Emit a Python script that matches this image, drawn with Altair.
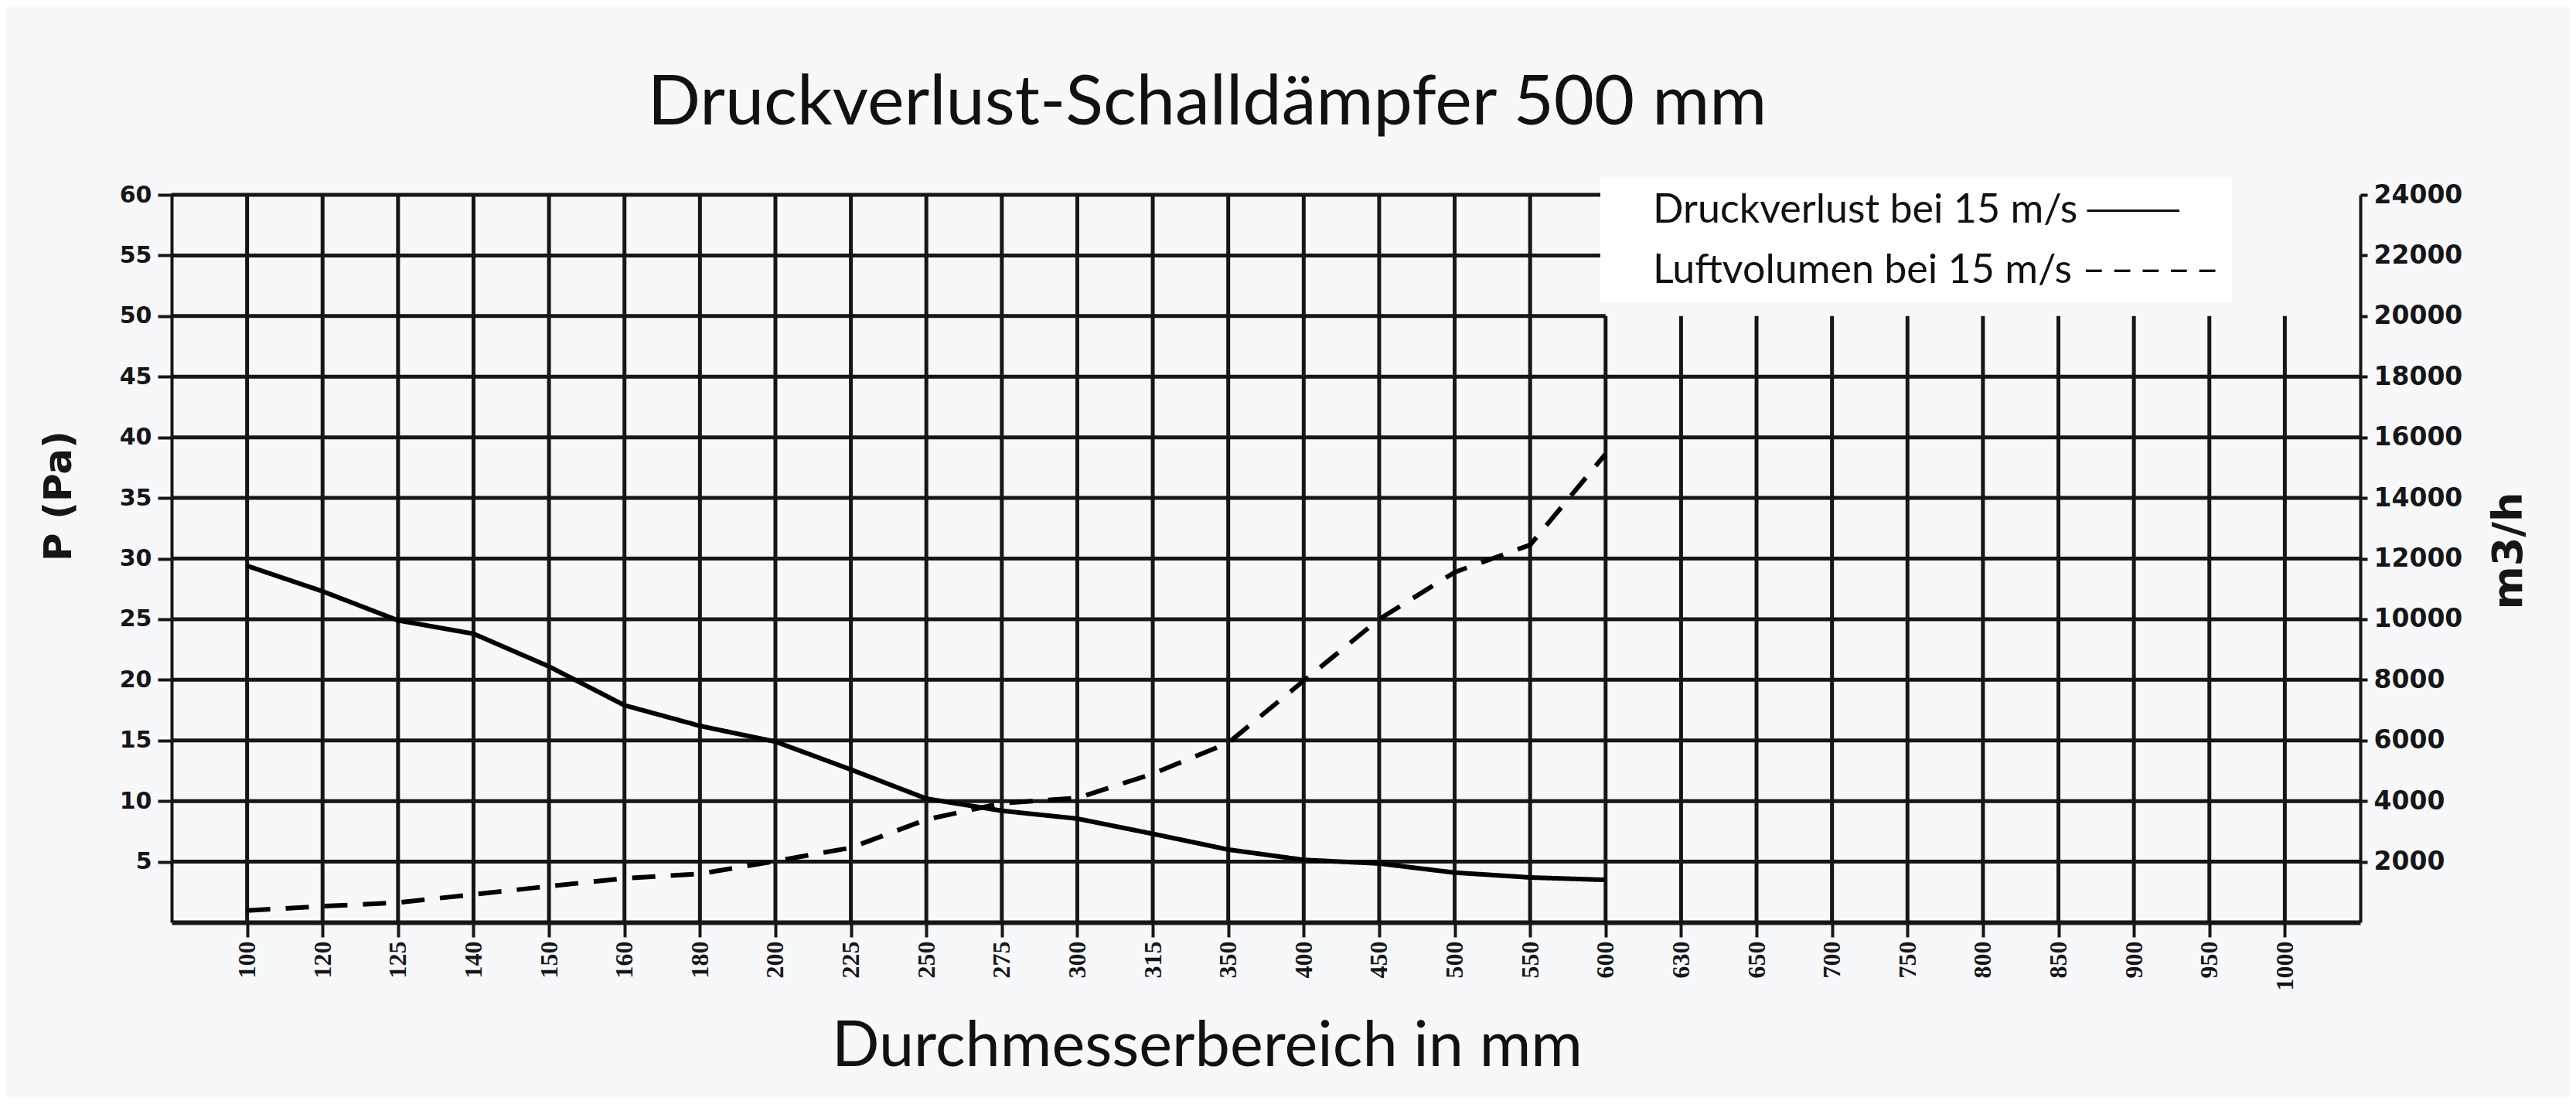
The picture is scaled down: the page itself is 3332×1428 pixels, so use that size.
import altair as alt
import pandas as pd

# ---------------- data ----------------
diameters = [100, 120, 125, 140, 150, 160, 180, 200, 225, 250, 275, 300, 315, 350,
             400, 450, 500, 550, 600, 630, 650, 700, 750, 800, 850, 900, 950, 1000]
curve_diameters = [100, 120, 125, 140, 150, 160, 180, 200, 225, 250, 275, 300, 315, 350,
                   400, 450, 500, 550, 600]
pressure_pa = [29.4, 27.3, 24.9, 23.8, 21.1, 17.9, 16.2, 14.9, 12.6, 10.2, 9.2, 8.55, 7.3,
               6.0, 5.15, 4.85, 4.1, 3.7, 3.5]
volume_m3h = [390, 530, 650, 920, 1190, 1450, 1600, 2020, 2460, 3390, 3930, 4100, 4900,
              5920, 7970, 10000, 11550, 12450, 15450]
pressure_ticks = [5, 10, 15, 20, 25, 30, 35, 40, 45, 50, 55, 60]
volume_ticks = [2000, 4000, 6000, 8000, 10000, 12000, 14000, 16000, 18000, 20000, 22000, 24000]
series_labels = ["Druckverlust bei 15 m/s \u2500\u2500\u2500",
                 "Luftvolumen bei 15 m/s \u2013\u2009\u2013\u2009\u2013\u2009\u2013\u2009\u2013"]
title_text = "Druckverlust-Schalldämpfer 500 mm"
x_title = "Durchmesserbereich in mm"
left_title = "P (Pa)"
right_title = "m3/h"

# ---------------- tables ----------------
n = len(diameters)
pos = {d: i + 1 for i, d in enumerate(diameters)}
last_curve = pos[curve_diameters[-1]]

df_p = pd.DataFrame({"pos": [pos[d] for d in curve_diameters], "value": pressure_pa,
                     "series": series_labels[0]})
df_v = pd.DataFrame({"pos": [pos[d] for d in curve_diameters], "value": volume_m3h,
                     "series": series_labels[1]})

# grid: upper right corner of the chart is left open (legend area)
hgrid = pd.DataFrame({
    "y": pressure_ticks,
    "x0": [0] * len(pressure_ticks),
    "x1": [n + 1 if t < 50 else last_curve for t in pressure_ticks],
})
vgrid = pd.DataFrame({
    "pos": list(range(1, n + 1)),
    "y0": [0] * n,
    "y1": [60 if i < last_curve else 50 for i in range(1, n + 1)],
})

label_js = "[" + ",".join("'%d'" % d for d in diameters) + "]"

W, H = 2831, 941
INK = "#161616"

xscale = alt.Scale(domain=[0, n + 1], nice=False, zero=False)
yscale = alt.Scale(domain=[0, 60], nice=False, zero=True)
vscale = alt.Scale(domain=[0, 24000], nice=False, zero=True)
dash_scale = alt.Scale(domain=series_labels, range=[[1, 0], [30, 20]])

legend = alt.Legend(
    title=None, orient="none", legendX=1848, legendY=-22,
    labelFont="Lato", labelFontSize=52, labelColor="#111111",
    fillColor="#ffffff", padding=16, rowPadding=26,
    symbolOpacity=0, symbolSize=4, labelOffset=0,
    symbolType="stroke", labelLimit=2000,
)

x_axis = alt.Axis(
    values=list(range(1, n + 1)), labelExpr=label_js + "[datum.value-1]",
    labelAngle=-90, labelFont="Liberation Serif", labelFontWeight="bold",
    labelFontSize=32, labelColor=INK, labelPadding=5,
    tickSize=19, tickWidth=4, tickColor=INK,
    domainWidth=6, domainColor=INK, grid=False,
    title=x_title, titleFont="Lato", titleFontWeight="normal", titleFontSize=81,
    titleColor="#111111", titleX=1339, titleY=185, titleAlign="center",
    titleBaseline="alphabetic",
)

left_axis = alt.Axis(
    values=pressure_ticks, labelFont="DejaVu Sans", labelFontWeight="bold",
    labelFontSize=30, labelColor=INK, labelPadding=8,
    tickSize=18, tickWidth=4, tickColor=INK,
    domainWidth=4, domainColor=INK, grid=False,
    title=left_title, titleFont="DejaVu Sans", titleFontWeight="bold",
    titleFontSize=50, titleColor=INK, titleAngle=270, titleX=-146, titleY=389,
    titleAlign="center", titleBaseline="middle",
)

right_axis = alt.Axis(
    orient="right", values=volume_ticks, format="d", labelFont="DejaVu Sans",
    labelFontWeight="bold", labelFontSize=33, labelColor=INK, labelPadding=8,
    tickSize=9, tickWidth=4, tickColor=INK,
    domainWidth=4, domainColor=INK, grid=False,
    title=right_title, titleFont="DejaVu Sans", titleFontWeight="bold",
    titleFontSize=54, titleColor=INK, titleAngle=270, titleX=192, titleY=460,
    titleAlign="center", titleBaseline="middle",
)

h_layer = alt.Chart(hgrid).mark_rule(color=INK, strokeWidth=5).encode(
    x=alt.X("x0:Q", scale=xscale, axis=x_axis),
    x2="x1:Q",
    y=alt.Y("y:Q", scale=yscale, axis=left_axis),
)
v_layer = alt.Chart(vgrid).mark_rule(color=INK, strokeWidth=5).encode(
    x=alt.X("pos:Q", scale=xscale, axis=x_axis),
    y=alt.Y("y0:Q", scale=yscale, axis=left_axis),
    y2="y1:Q",
)
p_layer = alt.Chart(df_p).mark_line(color="#000000", strokeWidth=6).encode(
    x=alt.X("pos:Q", scale=xscale, axis=x_axis),
    y=alt.Y("value:Q", scale=yscale, axis=left_axis),
    strokeDash=alt.StrokeDash("series:N", scale=dash_scale, legend=legend),
)
v_line = alt.Chart(df_v).mark_line(color="#000000", strokeWidth=6).encode(
    x=alt.X("pos:Q", scale=xscale, axis=x_axis),
    y=alt.Y("value:Q", scale=vscale, axis=right_axis),
    strokeDash=alt.StrokeDash("series:N", scale=dash_scale, legend=legend),
)

left_part = alt.layer(h_layer, v_layer, p_layer)

chart = alt.layer(left_part, v_line).resolve_scale(y="independent").properties(
    width=W, height=H,
    autosize=alt.AutoSizeParams(type="none"),
    padding={"left": 214, "top": 244, "right": 271, "bottom": 227},
    background="#f7f8fa",
    title=alt.TitleParams(
        title_text, font="Lato", fontSize=90, fontWeight="normal", color="#111111",
        anchor="middle", dx=-76, offset=50,
    ),
).configure_view(stroke=None)

chart.save("out.html", embed_options={"renderer": "svg", "actions": False})
